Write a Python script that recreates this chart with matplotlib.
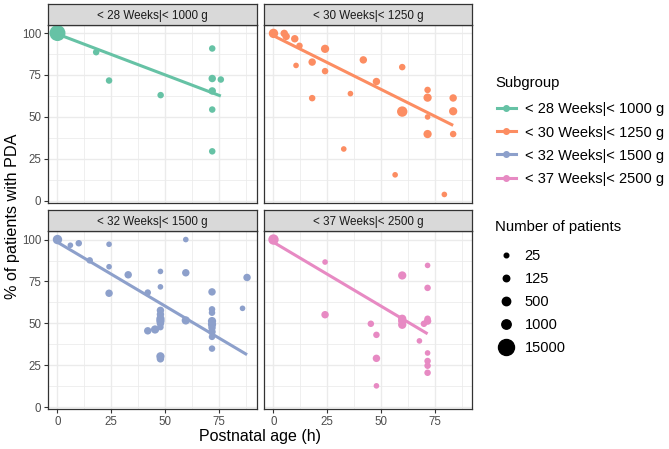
import numpy as np
import matplotlib
matplotlib.use("Agg")
import matplotlib.pyplot as plt
from matplotlib.lines import Line2D

plt.rcParams['font.family'] = ['Liberation Sans', 'DejaVu Sans']

# subgroups (facets)
groups = ["< 28 Weeks|< 1000 g", "< 30 Weeks|< 1250 g",
          "< 32 Weeks|< 1500 g", "< 37 Weeks|< 2500 g"]
colors = ["#66C2A5", "#FC8D62", "#8DA0CB", "#E78AC3"]

# postnatal age (h), % with PDA, number of patients per study point
age_28 = [0, 18, 24, 48, 72, 72, 76, 72, 72, 72]
pda_28 = [100, 88.6, 71.7, 63, 90.8, 72.9, 72.3, 65.5, 54.4, 29.5]
n_28 = [15000, 125, 125, 125, 125, 250, 125, 250, 125, 125]

age_30 = [0, 5, 5.9, 9.9, 12.1, 10.5, 18, 24, 24, 18, 41.8, 35.8, 47.9, 32.7,
          59.9, 56.6, 59.9, 71.7, 71.7, 71.7, 71.7, 83.6, 83.6, 83.6, 79.5]
pda_30 = [99.8, 99.8, 98, 96.6, 92.4, 80.7, 82.7, 90.6, 77.3, 61.2, 84, 63.9,
          71.1, 30.9, 79.7, 15.5, 53.2, 66.1, 61.5, 50, 39.8, 61.3, 53.4, 39.8, 3.8]
n_30 = [1000, 250, 250, 250, 125, 60, 250, 450, 125, 125, 250, 60,
        250, 60, 125, 60, 1500, 125, 450, 60, 450, 250, 450, 125, 60]

age_32 = [0, 6, 9.9, 15, 24, 24, 24, 32.9, 42, 47.9, 47.9, 47.9, 47.9, 47.9,
          47.9, 47.9, 47.9, 45.4, 42, 47.9, 47.9, 59.7, 59.7, 59.7, 71.9, 71.9,
          71.9, 71.9, 71.9, 71.9, 71.9, 71.9, 71.9, 86.1, 88.2]
pda_32 = [100, 96.6, 97.8, 87.6, 97.2, 83.8, 68, 79, 68.4, 81, 71.8, 57.8,
          55.4, 52.8, 51.4, 50, 47.8, 46.4, 45.6, 30.4, 28.9, 100, 80.2, 51.8,
          68.8, 58.4, 56.4, 51.4, 49.4, 47.4, 45, 42, 35, 59, 77.4]
n_32 = [1000, 60, 125, 125, 60, 60, 250, 250, 125, 60, 60, 250,
        250, 450, 450, 250, 125, 450, 250, 450, 250, 60, 250, 450,
        250, 125, 125, 450, 450, 250, 250, 125, 125, 60, 250]

age_37 = [0, 24, 24, 45.3, 47.9, 47.9, 47.9, 59.9, 59.9, 59.9, 59.9, 67.9,
          70, 71.7, 71.7, 71.7, 71.7, 71.7, 71.7, 71.7, 71.7]
pda_37 = [100, 86.6, 55.2, 49.8, 43.2, 29.2, 12.8, 78.6, 52.8, 51.4, 49.2,
          39.6, 49.8, 84.6, 71.2, 52.8, 51.4, 32.4, 27.6, 24.8, 20.6]
n_37 = [1500, 60, 250, 125, 125, 250, 60, 450, 450, 450, 450, 60,
        125, 60, 125, 125, 250, 60, 125, 125, 125]

# weighted linear fit per subgroup
fit_intercept = [99.4, 98.4, 98.4, 98.4]
fit_slope = [-0.486, -0.639, -0.76, -0.761]

# size legend
size_breaks = [25, 125, 500, 1000, 15000]
size_px = [4.6, 6.5, 8.4, 9.4, 16]

ages = [age_28, age_30, age_32, age_37]
pdas = [pda_28, pda_30, pda_32, pda_37]
ns = [n_28, n_30, n_32, n_37]


def marker_area(n):
    d = np.interp(np.log10(n), np.log10(size_breaks), size_px) * 0.72
    return d ** 2


fig = plt.figure(figsize=(6.69, 4.49), dpi=100)
W, H = 669.0, 449.0
col_x = [48 / W, 264 / W]
row_y = [(H - 202.5) / H, (H - 409) / H]
pw, ph = 208.5 / W, 177.5 / H
sh = 21 / H

border = "#333333"
for i, g in enumerate(groups):
    r, c = divmod(i, 2)
    ax = fig.add_axes([col_x[c], row_y[r], pw, ph])
    ax.set_xlim(-4.41, 92.6)
    ax.set_ylim(-1.0, 104.8)
    ax.set_xticks([0, 25, 50, 75])
    ax.set_yticks([0, 25, 50, 75, 100])
    ax.set_xticks([12.5, 37.5, 62.5, 87.5], minor=True)
    ax.set_yticks([12.5, 37.5, 62.5, 87.5], minor=True)
    ax.grid(which="major", color="#EBEBEB", lw=1.0)
    ax.grid(which="minor", color="#EBEBEB", lw=0.55)
    ax.set_axisbelow(True)
    for s in ax.spines.values():
        s.set_color(border)
        s.set_linewidth(0.9)
    ax.tick_params(which="minor", length=0)
    ax.tick_params(which="major", length=3, width=0.8, color=border,
                   labelsize=8.3, labelcolor="#4D4D4D", pad=2)
    if r == 0:
        ax.tick_params(axis="x", which="major", length=0, labelbottom=False)
    if c == 1:
        ax.tick_params(axis="y", which="major", length=0, labelleft=False)

    x = np.array(ages[i])
    y = np.array(pdas[i])
    ax.scatter(x, y, s=marker_area(np.array(ns[i])), color=colors[i],
               linewidths=0, zorder=3)
    xl = np.array([x.min(), x.max()])
    ax.plot(xl, fit_intercept[i] + fit_slope[i] * xl, color=colors[i],
            lw=2.2, solid_capstyle="butt", zorder=4)

    # facet strip
    sax = fig.add_axes([col_x[c], row_y[r] + ph, pw, sh])
    sax.set_facecolor("#D9D9D9")
    sax.set_xticks([])
    sax.set_yticks([])
    for s in sax.spines.values():
        s.set_color(border)
        s.set_linewidth(0.9)
    sax.text(0.5, 0.45, g, ha="center", va="center", fontsize=8.4,
             color="#1A1A1A", transform=sax.transAxes)

fig.text(260 / W, (H - 436) / H, "Postnatal age (h)", ha="center", va="center",
         fontsize=11.5)
fig.text(13 / W, (H - 216) / H, "% of patients with PDA", ha="center",
         va="center", rotation=90, fontsize=11.7)

# legends: titles as text, keys as legends
fig.text(495 / W, (H - 83) / H, "Subgroup", ha="left", va="center",
         fontsize=10.7)
h1 = [Line2D([], [], color=col, lw=2.2, marker="o", markersize=4)
      for col in colors]
fig.legend(h1, groups, loc="upper left",
           bbox_to_anchor=(497 / W, (H - 102.5) / H), frameon=False,
           fontsize=10.5, handlelength=1.3, handletextpad=0.6,
           labelspacing=0.62, borderpad=0, borderaxespad=0)

fig.text(495 / W, (H - 227) / H, "Number of patients", ha="left", va="center",
         fontsize=10.7)
h2 = [Line2D([], [], ls="", marker="o", color="black",
             markersize=d * 0.72) for d in size_px]
fig.legend(h2, [str(b) for b in size_breaks], loc="upper left",
           bbox_to_anchor=(497 / W, (H - 249) / H), frameon=False,
           fontsize=10.5, handlelength=1.3, handletextpad=0.6,
           labelspacing=0.62, borderpad=0, borderaxespad=0)

fig.savefig("out.png", dpi=100)
